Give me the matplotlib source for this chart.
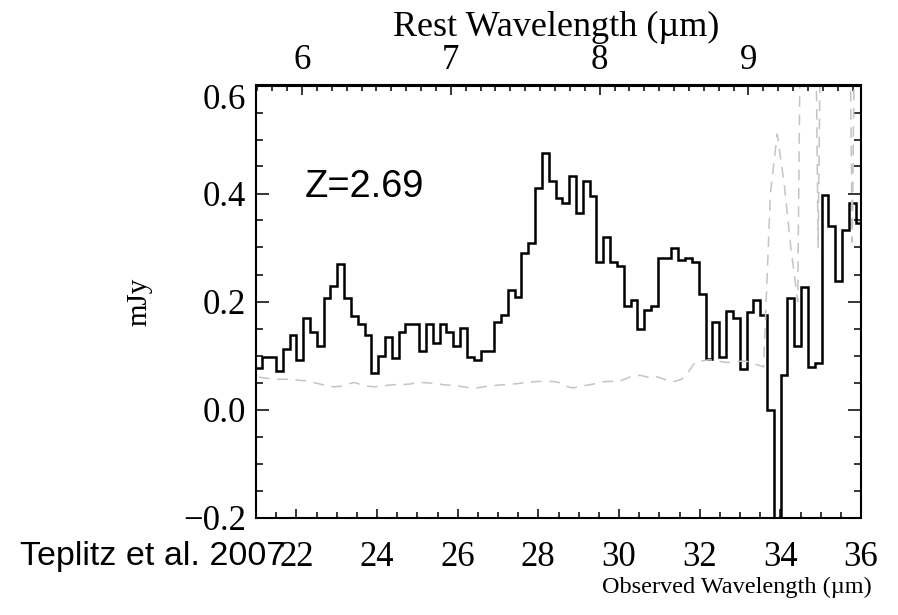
import numpy as np
import matplotlib
matplotlib.use('Agg')
import matplotlib.pyplot as plt
from matplotlib.ticker import MultipleLocator
from matplotlib.transforms import ScaledTranslation

# ---- data ----
wavelength = [21.071, 21.240, 21.409, 21.578, 21.747, 21.917, 22.086, 22.255, 22.424, 22.593,
              22.762, 22.931, 23.100, 23.269, 23.438, 23.608, 23.777, 23.946, 24.115, 24.284,
              24.453, 24.622, 24.791, 24.960, 25.129, 25.299, 25.468, 25.637, 25.806, 25.975,
              26.144, 26.313, 26.482, 26.651, 26.820, 26.990, 27.159, 27.328, 27.497, 27.666,
              27.835, 28.004, 28.173, 28.342, 28.511, 28.681, 28.850, 29.019, 29.188, 29.357,
              29.526, 29.695, 29.864, 30.033, 30.202, 30.372, 30.541, 30.710, 30.879, 31.048,
              31.217, 31.386, 31.555, 31.724, 31.893, 32.063, 32.232, 32.401, 32.570, 32.739,
              32.908, 33.077, 33.246, 33.415, 33.584, 33.754, 33.923, 34.092, 34.261, 34.430,
              34.599, 34.768, 34.937, 35.106, 35.275, 35.445, 35.614, 35.783, 35.952]

flux = [0.077, 0.098, 0.098, 0.071, 0.112, 0.138, 0.091, 0.170, 0.144, 0.118,
        0.206, 0.229, 0.269, 0.206, 0.173, 0.158, 0.138, 0.068, 0.100, 0.135,
        0.095, 0.143, 0.158, 0.158, 0.108, 0.158, 0.123, 0.158, 0.143, 0.118,
        0.151, 0.098, 0.091, 0.108, 0.108, 0.162, 0.175, 0.222, 0.209, 0.289,
        0.308, 0.411, 0.475, 0.423, 0.392, 0.383, 0.432, 0.364, 0.423, 0.396,
        0.273, 0.320, 0.273, 0.266, 0.191, 0.202, 0.150, 0.185, 0.191, 0.281,
        0.281, 0.300, 0.277, 0.281, 0.273, 0.214, 0.094, 0.162, 0.098, 0.183,
        0.170, 0.075, 0.180, 0.202, 0.175, 0.000, -0.450, 0.063, 0.206, 0.118,
        0.226, 0.079, 0.086, 0.397, 0.340, 0.238, 0.332, 0.383, 0.346]

flux_err = [0.060, 0.058, 0.057, 0.056, 0.056, 0.055, 0.054, 0.053, 0.050, 0.047,
            0.044, 0.042, 0.043, 0.047, 0.050, 0.046, 0.043, 0.042, 0.043, 0.045,
            0.046, 0.046, 0.047, 0.049, 0.050, 0.049, 0.048, 0.046, 0.045, 0.044,
            0.042, 0.040, 0.040, 0.042, 0.044, 0.045, 0.046, 0.047, 0.048, 0.050,
            0.051, 0.052, 0.052, 0.052, 0.050, 0.043, 0.040, 0.042, 0.045, 0.047,
            0.050, 0.052, 0.052, 0.053, 0.058, 0.063, 0.063, 0.060, 0.062, 0.058,
            0.053, 0.052, 0.056, 0.070, 0.088, 0.090, 0.092, 0.091, 0.088, 0.087,
            0.088, 0.090, 0.088, 0.083, 0.079, 0.400, 0.510, 0.420, 0.300, 0.200,
            1.500, 1.500, 0.300, 1.500, 1.500, 1.500, 1.500, 0.310, 1.500]

redshift = 2.69
x_ticks = [22, 24, 26, 28, 30, 32, 34, 36]
y_ticks = [-0.2, 0.0, 0.2, 0.4, 0.6]
rest_ticks = [6, 7, 8, 9]

plt.rcParams['font.family'] = ['Liberation Serif', 'DejaVu Serif']

fig = plt.figure(figsize=(8.98, 6.15), dpi=100)
ax = fig.add_axes([256 / 898, 1 - 517.5 / 615, 605 / 898, 432 / 615])

wl = np.asarray(wavelength)
edges = np.concatenate([[wl[0] - (wl[1] - wl[0]) / 2],
                        (wl[:-1] + wl[1:]) / 2,
                        [wl[-1] + (wl[-1] - wl[-2]) / 2]])

ax.plot(wavelength, flux_err, color='#c4c4c4', lw=1.1, dashes=(7, 5))
ax.stairs(flux, edges, baseline=None, color='black', lw=1.8)

ax.set_xlim(21, 36)
ax.set_ylim(-0.2, 0.6)
ax.set_xticks(x_ticks)
ax.set_yticks(y_ticks)
ax.xaxis.set_minor_locator(MultipleLocator(0.5))
ax.yaxis.set_minor_locator(MultipleLocator(0.05))

for s in ax.spines.values():
    s.set_linewidth(1.5)

ax.tick_params(axis='both', which='both', direction='in', top=False, right=True, width=1.1)
ax.tick_params(axis='y', which='major', length=9.5, labelsize=25, pad=7)
ax.tick_params(axis='y', which='minor', length=5)
ax.tick_params(axis='x', which='major', length=6.5, labelsize=25, pad=17)
ax.tick_params(axis='x', which='minor', length=4)

secax = ax.secondary_xaxis('top', functions=(lambda x: x / (1 + redshift),
                                             lambda r: r * (1 + redshift)))
secax.set_xticks(rest_ticks)
secax.xaxis.set_minor_locator(MultipleLocator(0.1))
secax.tick_params(which='both', direction='in', width=1.1)
secax.tick_params(which='major', length=7, labelsize=25, pad=6)
secax.tick_params(which='minor', length=4.3)
secax.spines['top'].set_linewidth(1.5)

secax.set_xlabel('Rest Wavelength (µm)', fontsize=26)
secax.xaxis.set_label_coords(0.496, 1.115, transform=ax.transAxes)

ax.set_xlabel('Observed Wavelength (µm)', fontsize=17.5)
ax.xaxis.set_label_coords(0.795, -0.138)

ax.set_ylabel('mJy', fontsize=21)
ax.yaxis.set_label_coords(-0.172, 0.5)

# the top y label sits a little lower in the reference
for lab in ax.get_yticklabels():
    if lab.get_text() in ('0.6',):
        lab.set_transform(lab.get_transform() + ScaledTranslation(0, -0.11, fig.dpi_scale_trans))

ax.text(22.22, 0.394, 'Z=2.69', family=['Liberation Sans', 'DejaVu Sans'],
        fontsize=27.4, va='baseline', ha='left')
fig.text(20 / 898, 1 - 565 / 615, 'Teplitz et al. 2007',
         family=['Liberation Sans', 'DejaVu Sans'], fontsize=24.5, va='baseline', ha='left')

fig.savefig('out.png', dpi=100)
